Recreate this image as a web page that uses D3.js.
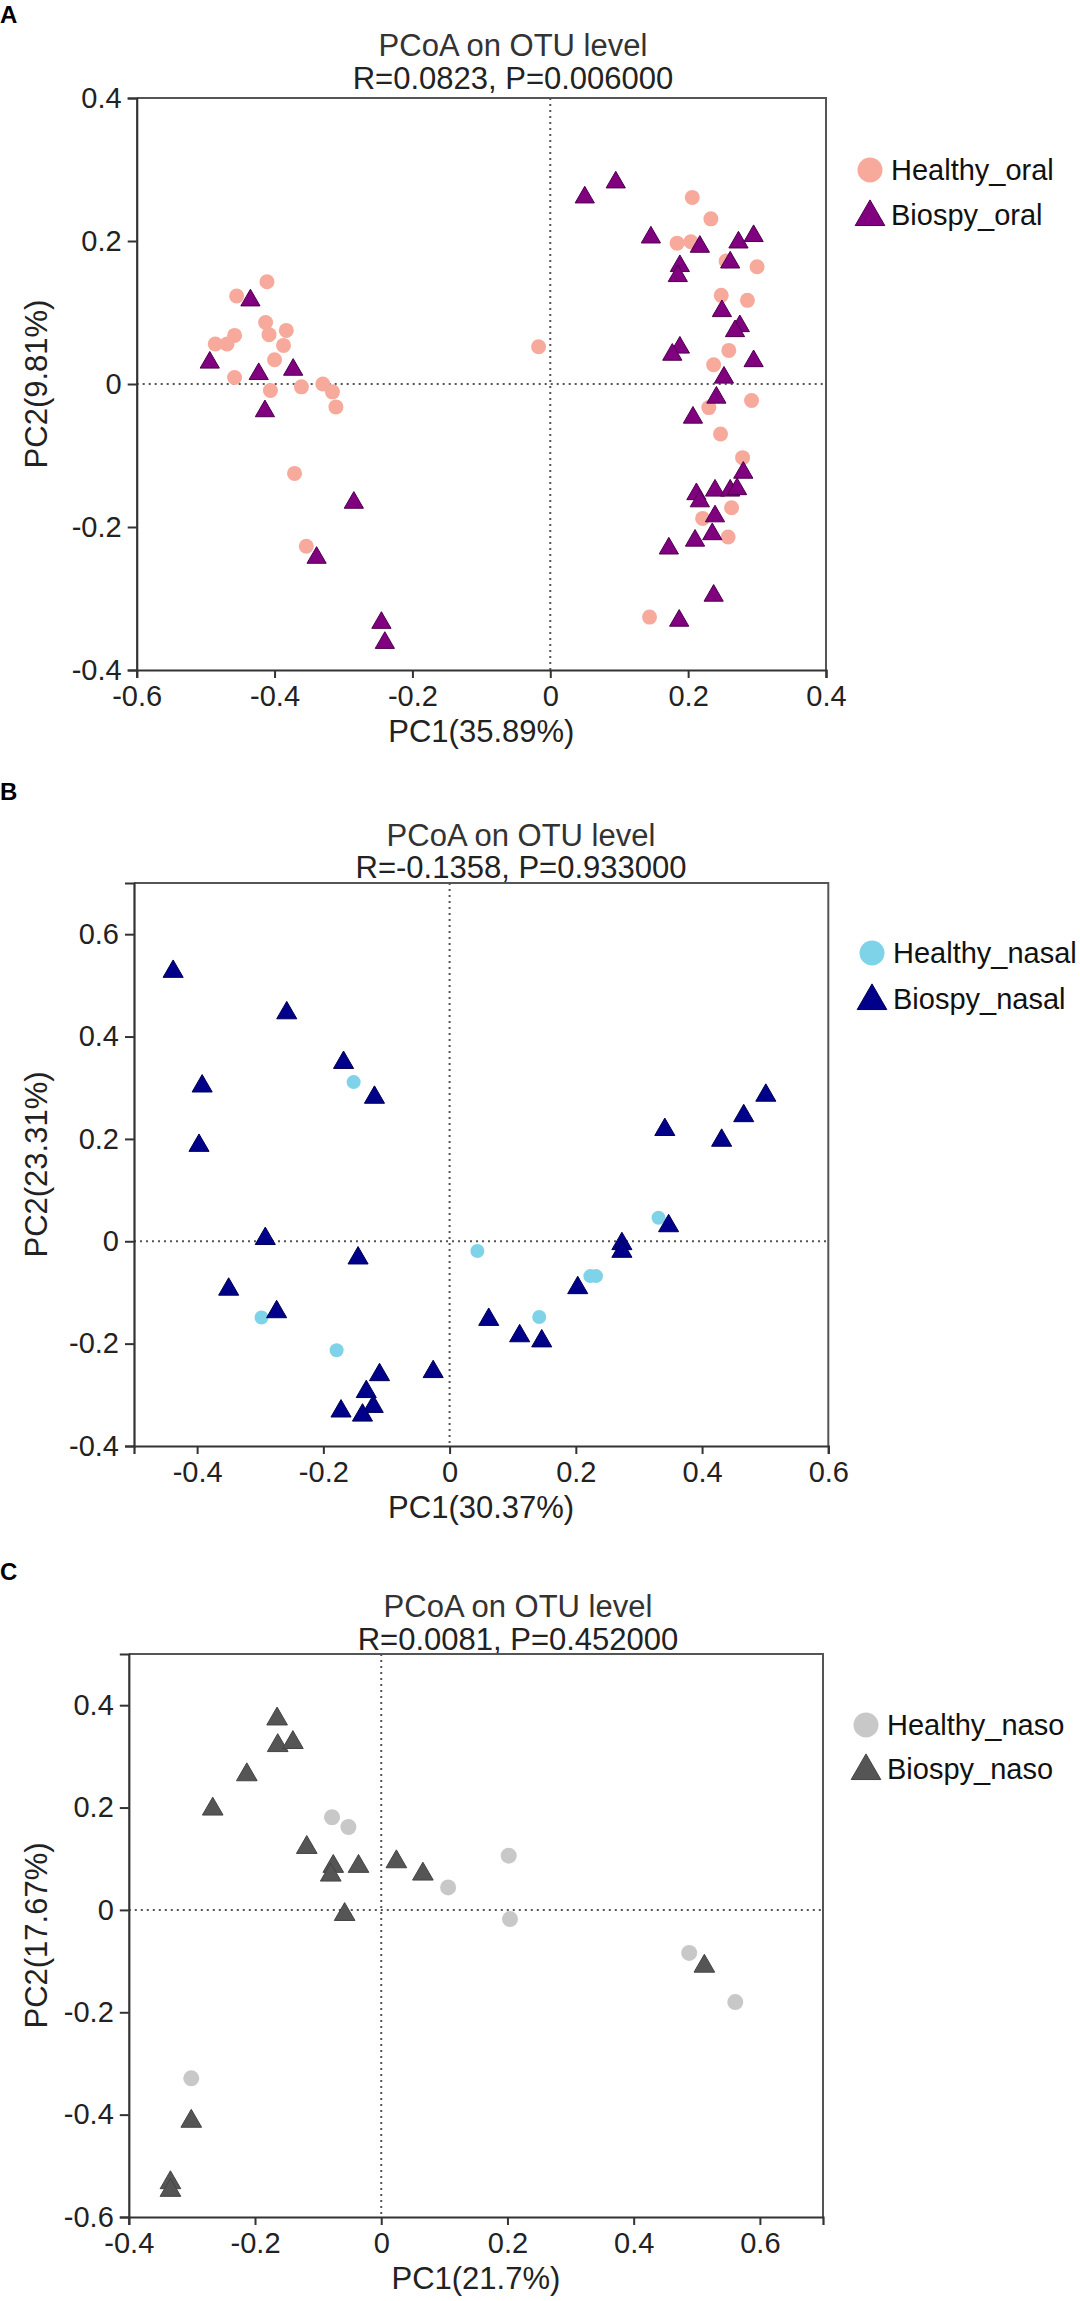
<!DOCTYPE html>
<html>
<head>
<meta charset="utf-8">
<script src="https://cdn.jsdelivr.net/npm/d3@7"></script>
<style>
  body { margin: 0; background: #fff; }
  text { font-family: "Liberation Sans", Arial, sans-serif; }
</style>
</head>
<body>
<script>
var w = 1080;
var h = 2301;

// Panel A: oral samples, [PC1, PC2]
var oralHealthy = [
  [0.206, 0.261], [0.233, 0.231], [0.184, 0.197], [0.204, 0.199], [0.255, 0.172],
  [0.300, 0.164], [0.248, 0.124], [0.286, 0.117], [-0.017, 0.052], [0.259, 0.047],
  [0.237, 0.027], [0.292, -0.023], [0.230, -0.033], [0.247, -0.070], [0.279, -0.103],
  [0.263, -0.173], [0.221, -0.188], [0.258, -0.214], [0.144, -0.326],
  [-0.411, 0.143], [-0.455, 0.123], [-0.413, 0.086], [-0.408, 0.069], [-0.383, 0.075],
  [-0.458, 0.068], [-0.469, 0.056], [-0.486, 0.056], [-0.387, 0.054], [-0.400, 0.034],
  [-0.458, 0.009], [-0.406, -0.009], [-0.361, -0.004], [-0.330, 0.000], [-0.316, -0.011],
  [-0.311, -0.032], [-0.371, -0.125], [-0.354, -0.227]
];
var oralBiospy = [
  [0.050, 0.261], [0.095, 0.282], [0.146, 0.205], [0.217, 0.192], [0.273, 0.198],
  [0.295, 0.207], [0.188, 0.165], [0.185, 0.151], [0.261, 0.170], [0.249, 0.102],
  [0.275, 0.081], [0.268, 0.074], [0.188, 0.051], [0.177, 0.041], [0.295, 0.032],
  [0.252, 0.009], [0.241, -0.019], [0.207, -0.047], [0.280, -0.124], [0.212, -0.154],
  [0.239, -0.149], [0.261, -0.149], [0.271, -0.147], [0.217, -0.164], [0.239, -0.185],
  [0.235, -0.210], [0.210, -0.219], [0.172, -0.230], [0.237, -0.296], [0.187, -0.331],
  [-0.435, 0.117], [-0.494, 0.030], [-0.423, 0.014], [-0.373, 0.020], [-0.414, -0.038],
  [-0.285, -0.166], [-0.339, -0.243], [-0.245, -0.334], [-0.240, -0.362]
];

// Panel B: nasal samples
var nasalHealthy = [
  [-0.152, 0.311], [-0.298, -0.149], [-0.179, -0.213], [0.044, -0.019],
  [0.331, 0.046], [0.223, -0.068], [0.232, -0.068], [0.142, -0.148]
];
var nasalBiospy = [
  [-0.438, 0.527], [-0.258, 0.446], [-0.168, 0.349], [-0.392, 0.303], [-0.119, 0.281],
  [-0.397, 0.187], [-0.292, 0.005], [-0.145, -0.033], [-0.350, -0.094], [-0.274, -0.138],
  [-0.111, -0.261], [-0.026, -0.255], [-0.132, -0.294], [-0.121, -0.323], [-0.172, -0.332],
  [-0.138, -0.340], [0.062, -0.153], [0.501, 0.285], [0.466, 0.245], [0.341, 0.218],
  [0.431, 0.197], [0.347, 0.030], [0.273, -0.005], [0.273, -0.020], [0.203, -0.091],
  [0.111, -0.185], [0.146, -0.195]
];

// Panel C: nasopharynx samples
var nasoHealthy = [
  [-0.078, 0.181], [-0.052, 0.162], [0.106, 0.044], [0.202, 0.106],
  [0.204, -0.018], [0.488, -0.084], [0.561, -0.180], [-0.301, -0.329]
];
var nasoBiospy = [
  [-0.165, 0.373], [-0.164, 0.321], [-0.140, 0.327], [-0.213, 0.264], [-0.267, 0.197],
  [-0.118, 0.122], [-0.076, 0.085], [-0.080, 0.068], [-0.036, 0.085], [0.024, 0.094],
  [0.066, 0.070], [-0.058, -0.009], [0.512, -0.110], [-0.301, -0.413], [-0.334, -0.533],
  [-0.334, -0.548]
];

// tick values
var oralXTicks = [-0.6, -0.4, -0.2, 0, 0.2, 0.4];
var oralYTicks = [-0.4, -0.2, 0, 0.2, 0.4];
var nasalXTicks = [-0.4, -0.2, 0, 0.2, 0.4, 0.6];
var nasalYTicks = [-0.4, -0.2, 0, 0.2, 0.4, 0.6];
var nasoXTicks = [-0.4, -0.2, 0, 0.2, 0.4, 0.6];
var nasoYTicks = [-0.6, -0.4, -0.2, 0, 0.2, 0.4];

// texts
var oralLabels = ["Healthy_oral", "Biospy_oral"];
var nasalLabels = ["Healthy_nasal", "Biospy_nasal"];
var nasoLabels = ["Healthy_naso", "Biospy_naso"];
var mainTitle = "PCoA on OTU level";
var statsText = ["R=0.0823, P=0.006000", "R=-0.1358, P=0.933000", "R=0.0081, P=0.452000"];
var xTitles = ["PC1(35.89%)", "PC1(30.37%)", "PC1(21.7%)"];
var yTitles = ["PC2(9.81%)", "PC2(23.31%)", "PC2(17.67%)"];

var svg = d3.select("body")
    .append("svg")
    .attr("width", w)
    .attr("height", h);

svg.append("rect").attr("width", w).attr("height", h).attr("fill", "#fff");

var fmt = function(d) { return d === 0 ? "0" : d.toFixed(1); };

function drawPanel(p) {
    var x = d3.scaleLinear().domain(p.xDomain).range([p.left, p.right]);
    var y = d3.scaleLinear().domain(p.yDomain).range([p.bottom, p.top]);
    var g = svg.append("g");

    // panel letter
    g.append("text")
        .attr("x", 0).attr("y", p.letterY)
        .attr("font-size", 24).attr("font-weight", "bold")
        .attr("fill", "#000")
        .text(p.letter);

    // title, two lines
    g.append("text")
        .attr("x", p.titleX).attr("y", p.top + p.titleDy[0])
        .attr("text-anchor", "middle").attr("font-size", 31).attr("fill", "#333")
        .text(mainTitle);
    g.append("text")
        .attr("x", p.titleX).attr("y", p.top + p.titleDy[1])
        .attr("text-anchor", "middle").attr("font-size", 31).attr("fill", "#222")
        .text(p.stats);

    // frame (top and right)
    g.append("path")
        .attr("d", "M" + p.left + "," + p.top + "H" + p.right + "V" + p.bottom)
        .attr("fill", "none").attr("stroke", "#555").attr("stroke-width", 2);

    // dotted zero lines
    g.append("line")
        .attr("x1", x(0)).attr("x2", x(0)).attr("y1", p.top).attr("y2", p.bottom)
        .attr("stroke", "#555").attr("stroke-width", 2).attr("stroke-dasharray", "2,4");
    g.append("line")
        .attr("x1", p.left).attr("x2", p.right).attr("y1", y(0)).attr("y2", y(0))
        .attr("stroke", "#555").attr("stroke-width", 2).attr("stroke-dasharray", "2,4");

    // axes
    var xAxis = g.append("g")
        .attr("transform", "translate(0," + p.bottom + ")")
        .call(d3.axisBottom(x).tickValues(p.xTicks).tickFormat(fmt).tickSize(8).tickPadding(7));
    var yAxis = g.append("g")
        .attr("transform", "translate(" + p.left + ",0)")
        .call(d3.axisLeft(y).tickValues(p.yTicks).tickFormat(fmt).tickSize(9).tickPadding(6));
    [xAxis, yAxis].forEach(function(a) {
        a.select(".domain").attr("stroke", "#333").attr("stroke-width", 2.2);
        a.selectAll(".tick line").attr("stroke", "#333").attr("stroke-width", 2);
        a.selectAll(".tick text").attr("font-size", 29).attr("fill", "#222")
            .attr("font-family", "'Liberation Sans', Arial, sans-serif");
    });

    // axis titles
    g.append("text")
        .attr("x", (p.left + p.right) / 2).attr("y", p.bottom + 72)
        .attr("text-anchor", "middle").attr("font-size", 31).attr("fill", "#222")
        .text(p.xTitle);
    g.append("text")
        .attr("transform", "translate(47," + (p.top + p.bottom) / 2 + ") rotate(-90)")
        .attr("text-anchor", "middle").attr("font-size", 31).attr("fill", "#222")
        .text(p.yTitle);

    // healthy circles
    g.append("g").selectAll("circle")
        .data(p.healthy)
        .enter()
        .append("circle")
        .attr("cx", function(d) { return x(d[0]); })
        .attr("cy", function(d) { return y(d[1]); })
        .attr("r", p.r)
        .attr("fill", p.hColor);

    // biospy triangles
    var tri = d3.symbol().type(d3.symbolTriangle).size(p.triSize);
    g.append("g").selectAll("path")
        .data(p.biospy)
        .enter()
        .append("path")
        .attr("d", tri)
        .attr("transform", function(d) { return "translate(" + x(d[0]) + "," + y(d[1]) + ")"; })
        .attr("fill", p.bColor)
        .attr("stroke", p.bStroke)
        .attr("stroke-width", 1);

    // legend
    g.append("circle")
        .attr("cx", p.legX).attr("cy", p.legY[0]).attr("r", 12.5)
        .attr("fill", p.hColor);
    g.append("path")
        .attr("d", d3.symbol().type(d3.symbolTriangle).size(380)())
        .attr("transform", "translate(" + p.legX + "," + (p.legY[1] + 2) + ")")
        .attr("fill", p.bColor).attr("stroke", p.bStroke).attr("stroke-width", 1);
    g.selectAll(".leg")
        .data(p.labels)
        .enter()
        .append("text")
        .attr("x", p.legX + 21)
        .attr("y", function(d, i) { return p.legY[i] + 10; })
        .attr("font-size", 29).attr("fill", "#111")
        .text(function(d) { return d; });
}

drawPanel({
    letter: "A", letterY: 23, titleX: 513, titleDy: [-42, -9],
    stats: statsText[0], xTitle: xTitles[0], yTitle: yTitles[0],
    left: 136.7, right: 826, top: 98, bottom: 670,
    xDomain: [-0.6, 0.4], yDomain: [-0.4, 0.4],
    xTicks: oralXTicks, yTicks: oralYTicks,
    healthy: oralHealthy, biospy: oralBiospy,
    hColor: "#f7a99b", bColor: "#800080", bStroke: "#4d004d",
    r: 7.5, triSize: 160,
    labels: oralLabels, legX: 870, legY: [170, 215]
});

drawPanel({
    letter: "B", letterY: 800, titleX: 521, titleDy: [-37, -5],
    stats: statsText[1], xTitle: xTitles[1], yTitle: yTitles[1],
    left: 134, right: 828.3, top: 883, bottom: 1446,
    xDomain: [-0.5, 0.6], yDomain: [-0.4, 0.7],
    xTicks: nasalXTicks, yTicks: nasalYTicks,
    healthy: nasalHealthy, biospy: nasalBiospy,
    hColor: "#7fd3e8", bColor: "#00008b", bStroke: "#000050",
    r: 7, triSize: 175,
    labels: nasalLabels, legX: 872, legY: [953, 999]
});

drawPanel({
    letter: "C", letterY: 1580, titleX: 518, titleDy: [-37, -4],
    stats: statsText[2], xTitle: xTitles[2], yTitle: yTitles[2],
    left: 128.8, right: 823, top: 1654, bottom: 2217,
    xDomain: [-0.4, 0.7], yDomain: [-0.6, 0.5],
    xTicks: nasoXTicks, yTicks: nasoYTicks,
    healthy: nasoHealthy, biospy: nasoBiospy,
    hColor: "#c8c8c8", bColor: "#555555", bStroke: "#444444",
    r: 8, triSize: 185,
    labels: nasoLabels, legX: 866, legY: [1725, 1769]
});
</script>
</body>
</html>
